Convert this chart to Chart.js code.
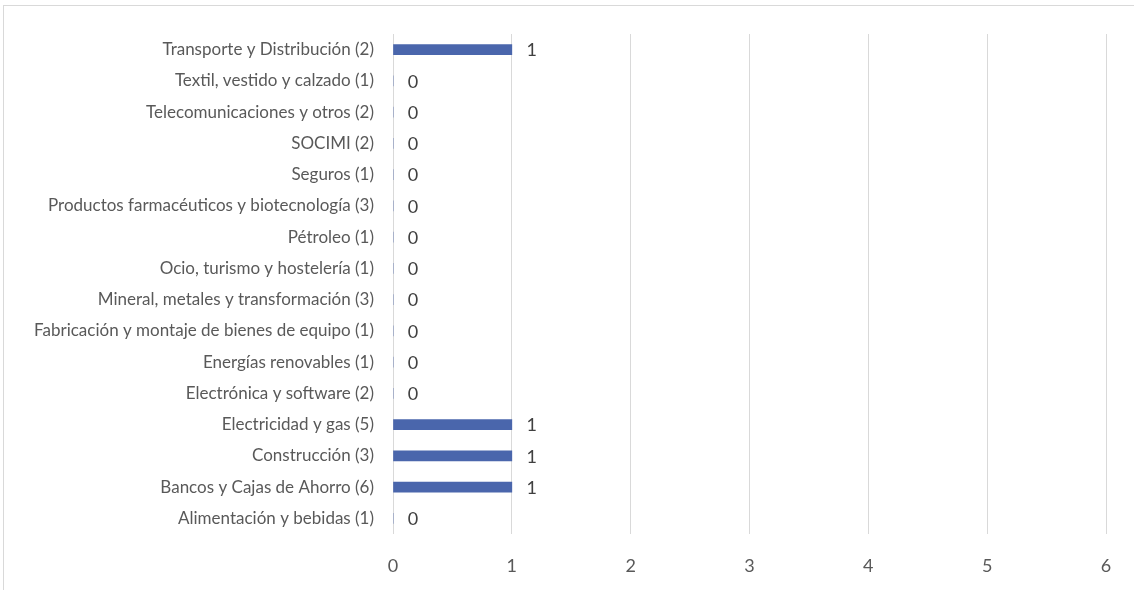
<!DOCTYPE html>
<html>
<head>
<meta charset="utf-8">
<script src="https://cdn.jsdelivr.net/npm/chart.js@4"></script>
<style>
  body { margin: 0; background: #fff; }
  #wrap { position: relative; width: 1134px; height: 590px; overflow: hidden; }
  #frame { position: absolute; left: 3px; top: 5px; width: 1200px; height: 700px;
           border-left: 1px solid #d9d9d9; border-top: 1px solid #d9d9d9; }
  canvas { position: absolute; left: 0; top: 0; }
</style>
</head>
<body>
<div id="wrap">
  <div id="frame"></div>
  <canvas id="myChart" width="1134" height="590"></canvas>
</div>
<script>
// sectores (de arriba a abajo, como en el gráfico)
var sectores = [
    "Transporte y Distribución (2)",
    "Textil, vestido y calzado (1)",
    "Telecomunicaciones y otros (2)",
    "SOCIMI (2)",
    "Seguros (1)",
    "Productos farmacéuticos y biotecnología (3)",
    "Pétroleo (1)",
    "Ocio, turismo y hostelería (1)",
    "Mineral, metales y transformación (3)",
    "Fabricación y montaje de bienes de equipo (1)",
    "Energías renovables (1)",
    "Electrónica y software (2)",
    "Electricidad y gas (5)",
    "Construcción (3)",
    "Bancos y Cajas de Ahorro (6)",
    "Alimentación y bebidas (1)"
];
var valores = [1, 0, 0, 0, 0, 0, 0, 0, 0, 0, 0, 0, 1, 1, 1, 0];
var ejeMin = 0;
var ejeMax = 6;

// etiquetas de valor al final de cada barra
var etiquetasPlugin = {
    id: 'etiquetas',
    afterDatasetsDraw: function(chart) {
        var ctx = chart.ctx;
        var meta = chart.getDatasetMeta(0);
        ctx.save();
        ctx.font = '18px Lato';
        ctx.fillStyle = '#404040';
        ctx.textAlign = 'center';
        ctx.textBaseline = 'middle';
        meta.data.forEach(function(bar, i) {
            ctx.fillText(String(valores[i]), bar.x + 20, bar.y + 1);
        });
        ctx.restore();
    }
};

var ctx = document.getElementById('myChart').getContext('2d');
var myChart = new Chart(ctx, {
    type: 'bar',
    data: {
        labels: sectores,
        datasets: [{
            data: valores,
            backgroundColor: '#4A66AC',
            borderWidth: 0,
            barThickness: 10
        }]
    },
    options: {
        indexAxis: 'y',
        responsive: false,
        animation: false,
        layout: { padding: { top: 34, right: 28, bottom: 0, left: 0 } },
        plugins: {
            legend: { display: false },
            tooltip: { enabled: false }
        },
        scales: {
            x: {
                min: ejeMin,
                max: ejeMax,
                ticks: { stepSize: 1, padding: 21, color: '#595959', font: { family: 'Lato', size: 18 } },
                grid: { color: '#d9d9d9', drawTicks: false },
                border: { display: false },
                afterFit: function(scale) { scale.height = 56; }
            },
            y: {
                ticks: { padding: 19, color: '#595959', font: { family: 'Lato', size: 17 } },
                grid: { display: false, drawTicks: false },
                border: { display: false },
                afterFit: function(scale) { scale.width = 393; }
            }
        }
    },
    plugins: [etiquetasPlugin]
});
</script>
</body>
</html>
